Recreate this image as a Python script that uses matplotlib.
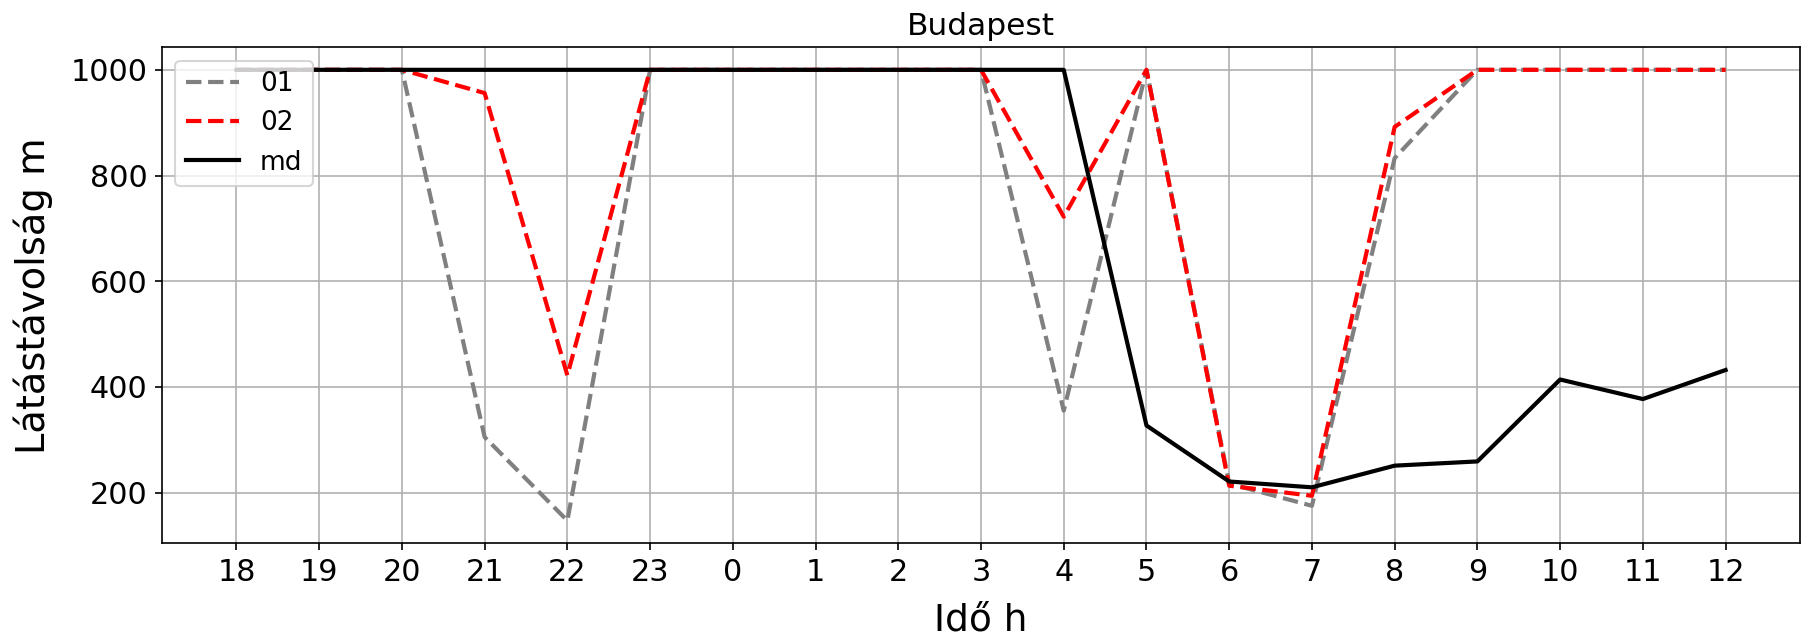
import matplotlib
matplotlib.use("Agg")
import matplotlib.pyplot as plt
import numpy as np

# hours of the forecast, 18 UTC to 12 UTC next day
hours = ['18', '19', '20', '21', '22', '23', '0', '1', '2', '3',
         '4', '5', '6', '7', '8', '9', '10', '11', '12']

vis_01 = [1000, 1000, 1000, 305, 147, 1000, 1000, 1000, 1000, 1000,
          355, 1000, 217, 175, 833, 1000, 1000, 1000, 1000]
vis_02 = [1000, 1000, 1000, 956, 422, 1000, 1000, 1000, 1000, 1000,
          722, 1000, 213, 194, 892, 1000, 1000, 1000, 1000]
vis_md = [1000, 1000, 1000, 1000, 1000, 1000, 1000, 1000, 1000, 1000,
          1000, 327, 221, 210, 251, 259, 414, 377, 432]

x = np.arange(len(hours))

fig = plt.figure(figsize=(1810/150, 639/150), dpi=150)
ax = fig.add_subplot(111)
fig.subplots_adjust(left=0.0895, right=0.9945, top=0.926, bottom=0.150)

ax.plot(x, vis_01, '--', color='gray', lw=2, label='01')
ax.plot(x, vis_02, '--', color='red', lw=2, label='02')
ax.plot(x, vis_md, '-', color='black', lw=2, label='md')

ax.set_xticks(x)
ax.set_xticklabels(hours)
ax.tick_params(labelsize=14.5)
ax.grid(True)
ax.set_title('Budapest', fontsize=15)
ax.set_xlabel('Idő h', fontsize=18, labelpad=7.5)
ax.set_ylabel('Látástávolság m', fontsize=18.5, labelpad=8.5)
ax.legend(loc='upper left', fontsize=12.7)

plt.savefig('out.png', dpi=150)
